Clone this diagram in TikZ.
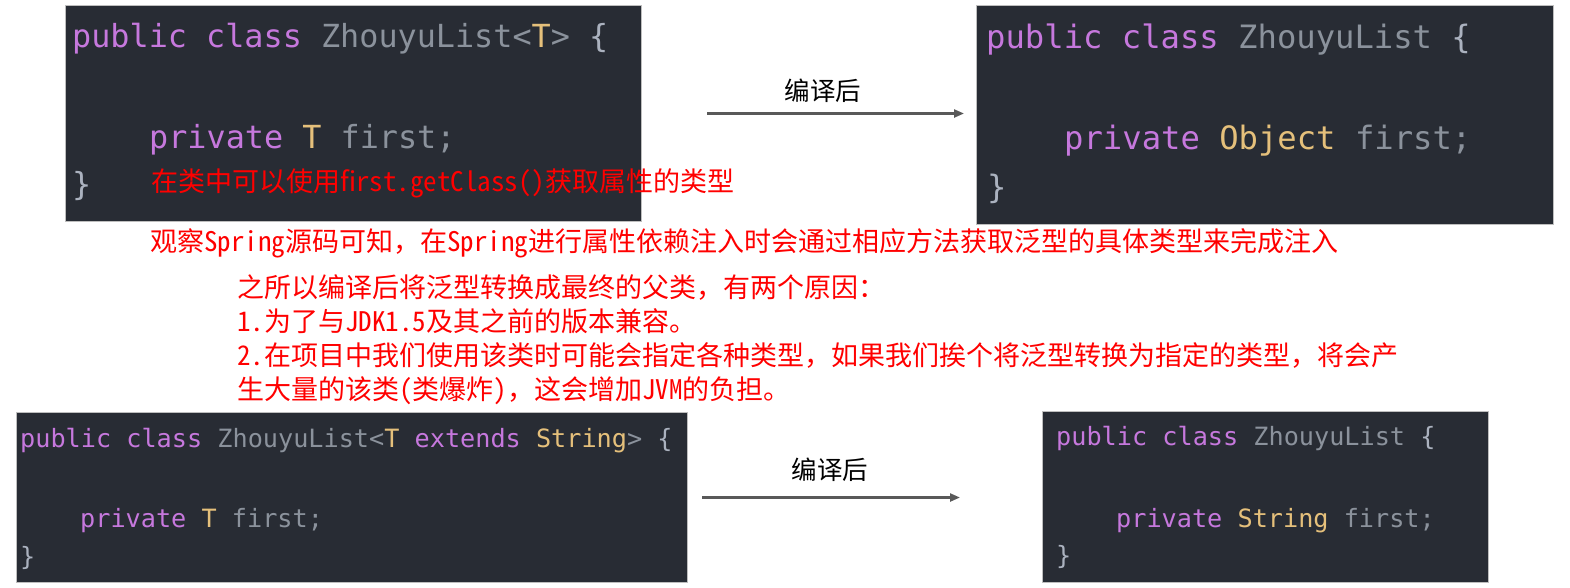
\documentclass[tikz,border=0pt]{standalone}
\usepackage{fontspec}
\setmainfont{Noto Sans CJK SC}
\setmonofont{DejaVu Sans Mono}
\newfontfamily\halffont[RawFeature=+hwid]{Noto Sans CJK SC}
\newcommand\halfw[1]{{\halffont #1}}
\definecolor{bgcolor}{RGB}{40,44,52}
\definecolor{boxborder}{RGB}{190,190,190}
\definecolor{kwcolor}{RGB}{198,120,221}
\definecolor{tycolor}{RGB}{229,192,123}
\definecolor{idcolor}{RGB}{139,146,156}
\definecolor{brcolor}{RGB}{171,178,191}
\definecolor{notecolor}{RGB}{255,0,0}
\definecolor{arrowcolor}{RGB}{89,89,89}
\usepackage{tikz}
\usetikzlibrary{arrows.meta, positioning}

\begin{document}
\begin{tikzpicture}[x=1pt, y=-1pt,
    codebox/.style={draw=boxborder, fill=bgcolor, line width=1pt, anchor=north west, inner sep=0pt},
    codeline/.style={anchor=base west, inner sep=0pt, text=idcolor, font=\ttfamily\fontsize{31.8}{38}\selectfont},
    smallcode/.style={codeline, font=\ttfamily\fontsize{25.2}{30}\selectfont},
    note/.style={anchor=base west, inner sep=0pt, text=notecolor, font=\fontsize{27}{32}\selectfont},
    arrowtext/.style={inner sep=0pt, text=black, font=\fontsize{25.5}{30}\selectfont},
    convert/.style={draw=arrowcolor, line width=2.2pt, -{Triangle[length=10pt, width=8pt]}}]
    \useasboundingbox (0,0) rectangle (1570,587);

    % code screenshots
    \node[codebox, minimum width=576pt, minimum height=216pt] (src1) at (65,5) {};
    \node[codebox, minimum width=577pt, minimum height=219pt] (out1) at (976,5) {};
    \node[codebox, minimum width=671pt, minimum height=170pt] (src2) at (16,412) {};
    \node[codebox, minimum width=446pt, minimum height=171pt] (out2) at (1042,411) {};

    \node[codeline] (src1a) at (72,47) {\textcolor{kwcolor}{public class} ZhouyuList<\textcolor{tycolor}{T}> \textcolor{brcolor}{\{}};
    \node[codeline] (src1b) at (149,148) {\textcolor{kwcolor}{private} \textcolor{tycolor}{T} first;};
    \node[codeline, text=brcolor] (src1c) at (72,195) {\}};

    \node[codeline, font=\ttfamily\fontsize{32.2}{38}\selectfont] (out1a) at (986,48) {\textcolor{kwcolor}{public class} ZhouyuList \textcolor{brcolor}{\{}};
    \node[codeline, font=\ttfamily\fontsize{32.2}{38}\selectfont] (out1b) at (1064,149) {\textcolor{kwcolor}{private} \textcolor{tycolor}{Object} first;};
    \node[codeline, text=brcolor, font=\ttfamily\fontsize{32.2}{38}\selectfont] (out1c) at (987,198) {\}};

    \node[smallcode] (src2a) at (20,447) {\textcolor{kwcolor}{public class} ZhouyuList<\textcolor{tycolor}{T} \textcolor{kwcolor}{extends} \textcolor{tycolor}{String}> \textcolor{brcolor}{\{}};
    \node[smallcode] (src2b) at (80,527) {\textcolor{kwcolor}{private} \textcolor{tycolor}{T} first;};
    \node[smallcode, text=brcolor] (src2c) at (20,565) {\}};

    \node[smallcode] (out2a) at (1056,445) {\textcolor{kwcolor}{public class} ZhouyuList \textcolor{brcolor}{\{}};
    \node[smallcode] (out2b) at (1116,527) {\textcolor{kwcolor}{private} \textcolor{tycolor}{String} first;};
    \node[smallcode, text=brcolor] (out2c) at (1056,564) {\}};

    % compile arrows
    \draw[convert, shorten <=65pt, shorten >=12pt] (src1.east) -- (src1.east -| out1.west);
    \node[arrowtext] (step1) at (823,91) {编译后};
    \draw[convert, shorten <=14pt, shorten >=82pt] (src2.east) -- (src2.east -| out2.west);
    \node[arrowtext] (step2) at (830,470) {编译后};

    % notes
    \node[note] (note1) at (151,191) {在类中可以使用\halfw{first.getClass()}获取属性的类型};
    \node[note] (note2) at (150,251) {观察\halfw{Spring}源码可知，在\halfw{Spring}进行属性依赖注入时会通过相应方法获取泛型的具体类型来完成注入};
    \node[note] (note3) at (237,297) {之所以编译后将泛型转换成最终的父类，有两个原因：};
    \node[note] (note4) at (237,331) {\halfw{1.}为了与\halfw{JDK1.5}及其之前的版本兼容。};
    \node[note] (note5) at (237,365) {\halfw{2.}在项目中我们使用该类时可能会指定各种类型，如果我们挨个将泛型转换为指定的类型，将会产};
    \node[note] (note6) at (237,399) {生大量的该类\halfw{(}类爆炸\halfw{)}，这会增加\halfw{JVM}的负担。};
\end{tikzpicture}
\end{document}
